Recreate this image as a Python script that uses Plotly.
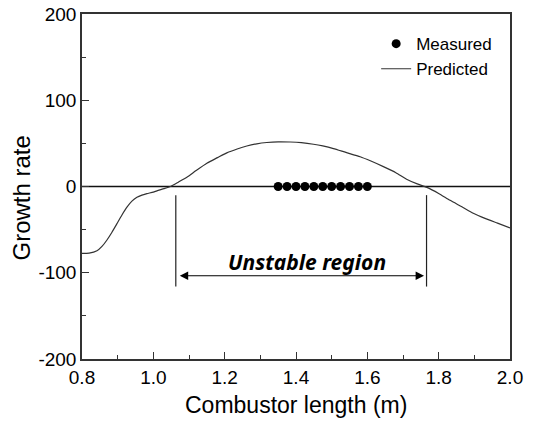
import plotly.graph_objects as go

# Predicted growth-rate curve
pred_x = [0.80, 0.82, 0.842, 0.856, 0.870, 0.884, 0.898, 0.912, 0.926, 0.940, 0.954, 0.968,
          0.982, 1.00, 1.01, 1.03, 1.048, 1.07, 1.095, 1.12, 1.15, 1.18, 1.206, 1.235, 1.262,
          1.29, 1.318, 1.35, 1.384, 1.415, 1.449, 1.475, 1.505, 1.54, 1.58, 1.61, 1.645,
          1.68, 1.71, 1.74, 1.767, 1.80, 1.832, 1.865, 1.897, 1.93, 1.965, 2.0]
pred_y = [-77.5, -77.2, -74.5, -69.5, -62, -53, -43, -33, -24, -17, -12.5, -10,
          -8.3, -6.5, -5, -2.5, 0, 5, 11, 18.5, 27, 33.5, 39, 43.5, 47,
          49.5, 51, 51.8, 51.6, 50.8, 49, 47, 44, 39.5, 34.5, 29.5, 23,
          16, 8.5, 3, -1, -8, -16, -23.5, -31, -37, -42.5, -48]

# Measured points (all at growth rate 0)
meas_x = [1.35, 1.375, 1.40, 1.425, 1.45, 1.475, 1.50, 1.525, 1.55, 1.575, 1.60]
meas_y = [0] * len(meas_x)

# Unstable region annotation
bounds_x = [1.063, 1.766]
bound_y = [-10, -116]
arrow_x = [1.07, 1.759]
arrow_y = -103.5
label_text = "Unstable region"
label_x = 1.43
label_y = -87

x_ticks = [0.8, 1.0, 1.2, 1.4, 1.6, 1.8, 2.0]
x_tick_text = ["0.8", "1.0", "1.2", "1.4", "1.6", "1.8", "2.0"]
y_ticks = [-200, -100, 0, 100, 200]
y_tick_text = ["-200", "-100", "0", "100", "200"]
x_title = "Combustor length (m)"
y_title = "Growth rate"

fig = go.Figure()

# zero line
fig.add_trace(go.Scatter(x=[0.8, 2.0], y=[0, 0], mode="lines",
                         line=dict(color="#111", width=1.3), showlegend=False, hoverinfo="skip"))

fig.add_trace(go.Scatter(x=meas_x, y=meas_y, mode="markers", name="Measured",
                         marker=dict(color="black", size=9, symbol="circle")))
fig.add_trace(go.Scatter(x=pred_x, y=pred_y, mode="lines", name="Predicted",
                         line=dict(color="#333", width=1.2, shape="spline", smoothing=0.6)))

for bx in bounds_x:
    fig.add_shape(type="line", x0=bx, x1=bx, y0=bound_y[0], y1=bound_y[1],
                  xref="x", yref="y", line=dict(color="#222", width=1.2))

fig.add_annotation(x=arrow_x[1], y=arrow_y, ax=arrow_x[0], ay=arrow_y,
                   xref="x", yref="y", axref="x", ayref="y", text="",
                   showarrow=True, arrowhead=2, arrowside="end+start",
                   arrowsize=1.4, arrowwidth=1.2, arrowcolor="black")

fig.add_annotation(x=label_x, y=label_y, xref="x", yref="y", text=label_text,
                   showarrow=False,
                   font=dict(family="Noto Sans", size=21, color="black",
                             style="italic", weight="bold"))

# axis titles
fig.add_annotation(x=0.5, y=0, xref="paper", yref="paper", text=x_title,
                   showarrow=False, yanchor="middle", yshift=-46,
                   font=dict(family="Liberation Sans", size=23, color="black"))
fig.add_annotation(x=0, y=0.5, xref="paper", yref="paper", text=y_title,
                   showarrow=False, textangle=-90, xanchor="center", yanchor="middle",
                   xshift=-61, yshift=-12,
                   font=dict(family="Liberation Sans", size=24, color="black"))

axis_common = dict(showline=True, linecolor="#333", linewidth=1.5, mirror=True,
                   ticks="inside", ticklen=7, tickwidth=1.2, tickcolor="#333",
                   showgrid=False, zeroline=False, automargin=False,
                   tickfont=dict(family="Liberation Sans", size=19, color="black"))

fig.update_xaxes(range=[0.8, 2.0], tickvals=x_ticks, ticktext=x_tick_text,
                 minor=dict(dtick=0.1, ticks="inside", ticklen=4, tickcolor="#333", tickwidth=1),
                 **axis_common)
fig.update_yaxes(range=[-200, 200], tickvals=y_ticks, ticktext=y_tick_text,
                 minor=dict(dtick=50, ticks="inside", ticklen=4, tickcolor="#333", tickwidth=1),
                 **axis_common)

fig.update_layout(width=541, height=421,
                  margin=dict(l=82, r=31, t=14, b=62),
                  paper_bgcolor="white", plot_bgcolor="white",
                  legend=dict(x=0.97, y=0.965, xanchor="right", yanchor="top",
                              font=dict(family="Liberation Sans", size=17, color="black"),
                              bgcolor="rgba(0,0,0,0)", tracegroupgap=0, itemwidth=30))

# remove the default 8px page margin so the figure fills the window exactly
fig.write_html("out.html", config={"displayModeBar": False},
               post_script="document.body.style.margin='0';")
